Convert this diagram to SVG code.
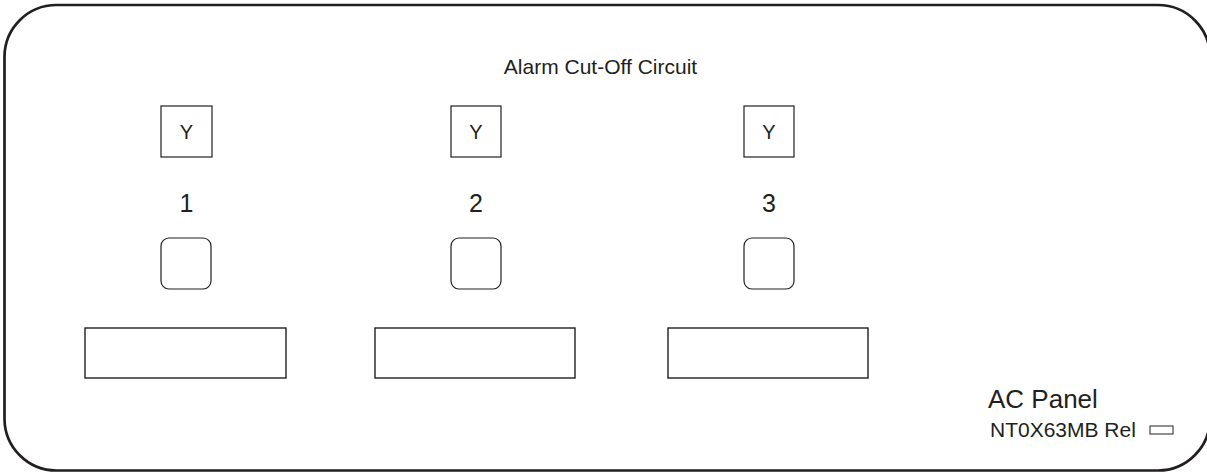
<svg xmlns="http://www.w3.org/2000/svg" width="1207" height="472" viewBox="0 0 1207 472">
<style>
.frame{fill:none;stroke:#231f20;stroke-width:2.7}
.box{fill:#fff;stroke:#231f20;stroke-width:1.2}
.wide{fill:#fff;stroke:#231f20;stroke-width:1.4}
text{font-family:"Liberation Sans",Arial,sans-serif;fill:#231f20}
.y{font-size:20px;text-anchor:middle}
.num{font-size:25px;text-anchor:middle}
</style>
<rect width="1207" height="472" fill="#fff"/>
<g id="panel">
<rect class="frame" x="4.5" y="5" width="1205.5" height="465.5" rx="52" ry="52"/>
</g>
<g id="title"><text x="600.5" y="74" font-size="21" text-anchor="middle">Alarm Cut-Off Circuit</text></g>
<g id="unit1">
<rect class="box" x="161" y="106" width="51" height="51"/>
<text class="y" x="186.5" y="139">Y</text>
<text class="num" x="186.5" y="212">1</text>
<rect class="box" x="161" y="238" width="50" height="51" rx="8" ry="8"/>
<rect class="wide" x="85" y="328" width="201" height="50"/>
</g>
<g id="unit2">
<rect class="box" x="451" y="106" width="50" height="51"/>
<text class="y" x="476" y="139">Y</text>
<text class="num" x="476" y="212">2</text>
<rect class="box" x="451" y="238" width="50" height="51" rx="8" ry="8"/>
<rect class="wide" x="375" y="328" width="200" height="50"/>
</g>
<g id="unit3">
<rect class="box" x="744" y="106" width="50" height="51"/>
<text class="y" x="769" y="139">Y</text>
<text class="num" x="769" y="212">3</text>
<rect class="box" x="744" y="238" width="50" height="51" rx="8" ry="8"/>
<rect class="wide" x="668" y="328" width="200" height="50"/>
</g>
<g id="label">
<text x="988" y="408" font-size="26">AC Panel</text>
<text x="990" y="437" font-size="21">NT0X63MB Rel</text>
<rect x="1150" y="426" width="23" height="8" fill="none" stroke="#231f20" stroke-width="1"/>
</g>
<g id="connectors"/>
</svg>
